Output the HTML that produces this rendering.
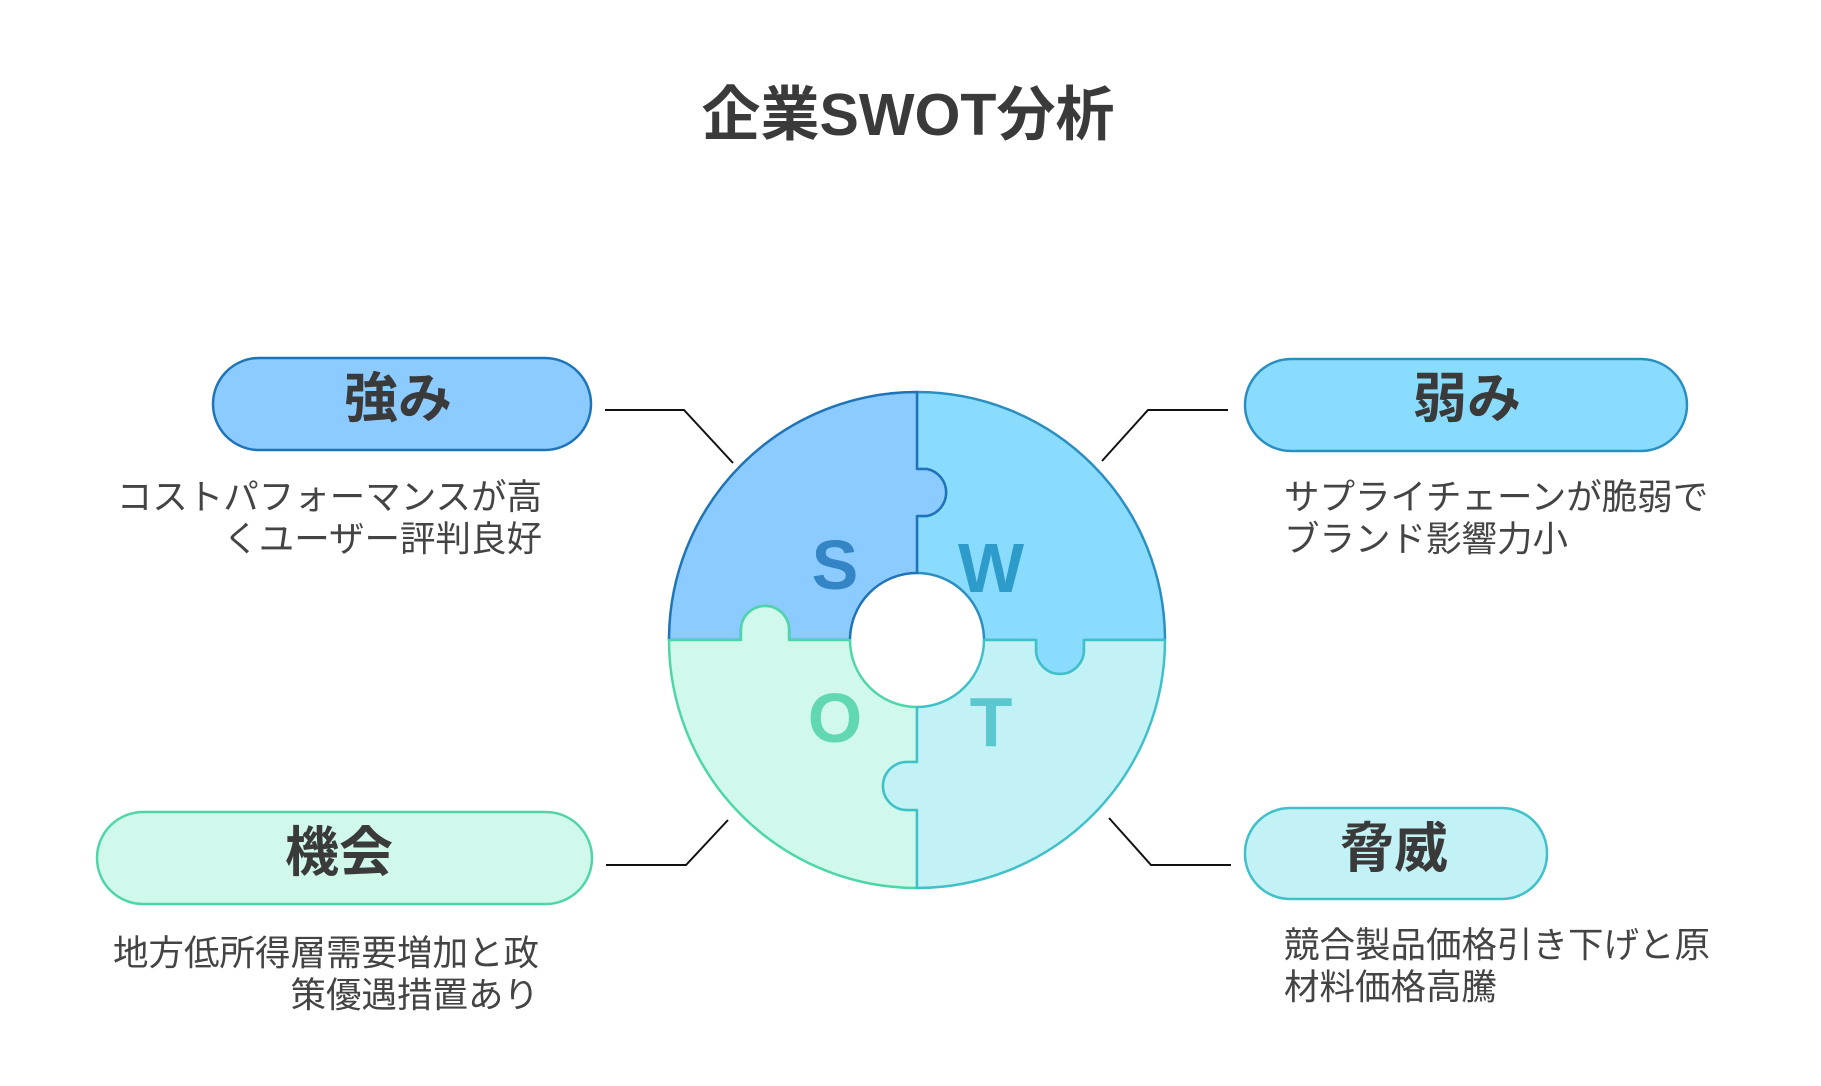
<!DOCTYPE html>
<html><head><meta charset="utf-8"><style>
html,body{margin:0;padding:0;background:#fff;}
svg{display:block;}
text{font-family:"Liberation Sans","Noto Sans CJK JP",sans-serif;}
</style></head><body>
<svg width="1821" height="1086" viewBox="0 0 1821 1086" xmlns="http://www.w3.org/2000/svg">
<rect width="1821" height="1086" fill="#fff"/>
<text x="908" y="135" text-anchor="middle" font-size="59" font-weight="bold" fill="#3a3a3a">企業SWOT分析</text>

<!-- connectors -->
<g fill="none" stroke="#111" stroke-width="2">
<polyline points="605,410 684,410 733,463"/>
<polyline points="1233,410 1153,410 1107,461" transform="translate(-5,0)"/>
<polyline points="606,865 686,865 728,820"/>
<polyline points="1236,865 1156,865 1114,818" transform="translate(-5,0)"/>
</g>

<!-- puzzle -->
<g transform="translate(-5,0)">
<g stroke-width="2.5" stroke-linejoin="round">
<path d="M922,392 A248,248 0 0 1 1170,640 L1089,640 L1089,650 A24,24 0 0 1 1041,650 L1041,640 L989,640 A67,67 0 0 0 922,573 L922,516 L932,516 A24,24 0 0 0 932,469 L922,469 Z" fill="#8adcff" stroke="#2a8fc0"/>
<path d="M674,640 L746,640 L746,630 A24,24 0 0 1 794,630 L794,640 L855,640 A67,67 0 0 1 922,573 L922,516 L932,516 A24,24 0 0 0 932,469 L922,469 L922,392 A248,248 0 0 0 674,640 Z" fill="#8ccbff" stroke="#1f74b8"/>
<path d="M674,640 A248,248 0 0 0 922,888 L922,810 L912,810 A24,24 0 0 1 912,762 L922,762 L922,707 A67,67 0 0 1 855,640 L794,640 L794,630 A24,24 0 0 0 746,630 L746,640 Z" fill="#d0f8ec" stroke="#4fd6a8"/>
<path d="M1170,640 A248,248 0 0 1 922,888 L922,810 L912,810 A24,24 0 0 1 912,762 L922,762 L922,707 A67,67 0 0 0 989,640 L1041,640 L1041,650 A24,24 0 0 0 1089,650 L1089,640 Z" fill="#c3f2f6" stroke="#40c0c8"/>
</g>
</g>
<g font-size="70" font-weight="bold" text-anchor="middle">
<text x="835" y="589" fill="#3385c6">S</text>
<text x="991" y="592" fill="#2e9ccb">W</text>
<text x="835" y="742" fill="#62d8b2">O</text>
<text x="991" y="746" fill="#5bc8d0">T</text>
</g>

<!-- pills -->
<rect x="213" y="358" width="378" height="92" rx="46" fill="#8ccbff" stroke="#1f74b8" stroke-width="2.5"/>
<rect x="1251" y="359" width="442" height="92" rx="46" fill="#8adcff" stroke="#2a8fc0" stroke-width="2.5" transform="translate(-6,0)"/>
<rect x="97" y="812" width="495" height="92" rx="46" fill="#d0f8ec" stroke="#4fd6a8" stroke-width="2.5"/>
<rect x="1251" y="808" width="302" height="91" rx="45" fill="#c3f2f6" stroke="#40c0c8" stroke-width="2.5" transform="translate(-6,0)"/>
<g font-size="54" font-weight="bold" fill="#3a3a3a" text-anchor="middle">
<text x="398" y="417">強み</text>
<text x="1467" y="417">弱み</text>
<text x="339" y="871">機会</text>
<text x="1394" y="867">脅威</text>
</g>

<!-- descriptions -->
<g font-size="35.5" fill="#444">
<text x="542" y="509" text-anchor="end">コストパフォーマンスが高</text>
<text x="542" y="551" text-anchor="end">くユーザー評判良好</text>
<text x="1284" y="509">サプライチェーンが脆弱で</text>
<text x="1284" y="551">ブランド影響力小</text>
<text x="539" y="965" text-anchor="end">地方低所得層需要増加と政</text>
<text x="539" y="1007" text-anchor="end">策優遇措置あり</text>
<text x="1284" y="957">競合製品価格引き下げと原</text>
<text x="1284" y="999">材料価格高騰</text>
</g>
</svg>
</body></html>
